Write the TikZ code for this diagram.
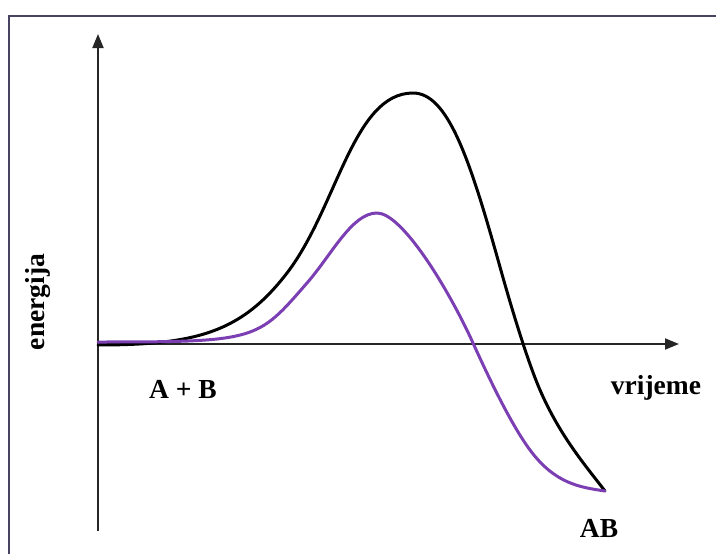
\documentclass[tikz,border=0pt]{standalone}
\usepackage{fontspec}
\setmainfont{Liberation Serif}
\usetikzlibrary{arrows.meta}
\definecolor{frameLine}{HTML}{4A4262}
\definecolor{curvePurple}{HTML}{7B3FB3}
\tikzset{
  axisline/.style={-{Triangle[length=14pt, width=11pt]}, line width=1.8pt, black!85},
  curveline/.style={line width=3pt, line join=round, line cap=round},
  axislabel/.style={font=\fontsize{27.5}{30}\selectfont\bfseries, inner sep=0pt},
}

\begin{document}
\begin{tikzpicture}[x=1pt, y=-1pt]
    \useasboundingbox (0,0) rectangle (716,554);
    \clip (0,0) rectangle (716,554);
    % frame
    \draw[frameLine, line width=2pt] (9,554.5) -- (9,15.5) -- (720,15.5);
    % axes
    \coordinate (origin) at (98,344);
    \coordinate (ybot) at (98,531);
    \coordinate (ytip) at (98,34);
    \coordinate (xtip) at (679,344);
    \draw[axisline] (ybot) -- (ytip);
    \draw[axisline] (origin) -- (xtip);
    % energy curves, both end in the product state
    \coordinate (start) at (98,345);
    \coordinate (finish) at (605,491);
    \draw[curveline, black] (start)
      .. controls (198,345) and (242,331.5) .. (287,273)
      .. controls (337,208) and (353,93) .. (413,93)
      .. controls (448,93) and (470,159.6) .. (500,267)
      .. controls (512,310) and (528,362.4) .. (540,390)
      .. controls (560,436) and (585,465) .. (finish);
    \draw[curveline, curvePurple] (98,342)
      .. controls (258,342) and (257,340.5) .. (307,283)
      .. controls (332,254.3) and (352,213) .. (377,213)
      .. controls (402,213) and (448,288) .. (473,343)
      .. controls (491,382.6) and (512,425.7) .. (530,450)
      .. controls (555,483.8) and (580,487.3) .. (finish);
    % labels
    \node[axislabel, rotate=90] (energy) at (38,302) {energija};
    \node[axislabel] (reactants) at (183,389) {A + B};
    \node[axislabel] (time) at (656,388) {vrijeme};
    \node[axislabel] (product) at (599,528) {AB};
  \end{tikzpicture}
\end{document}
